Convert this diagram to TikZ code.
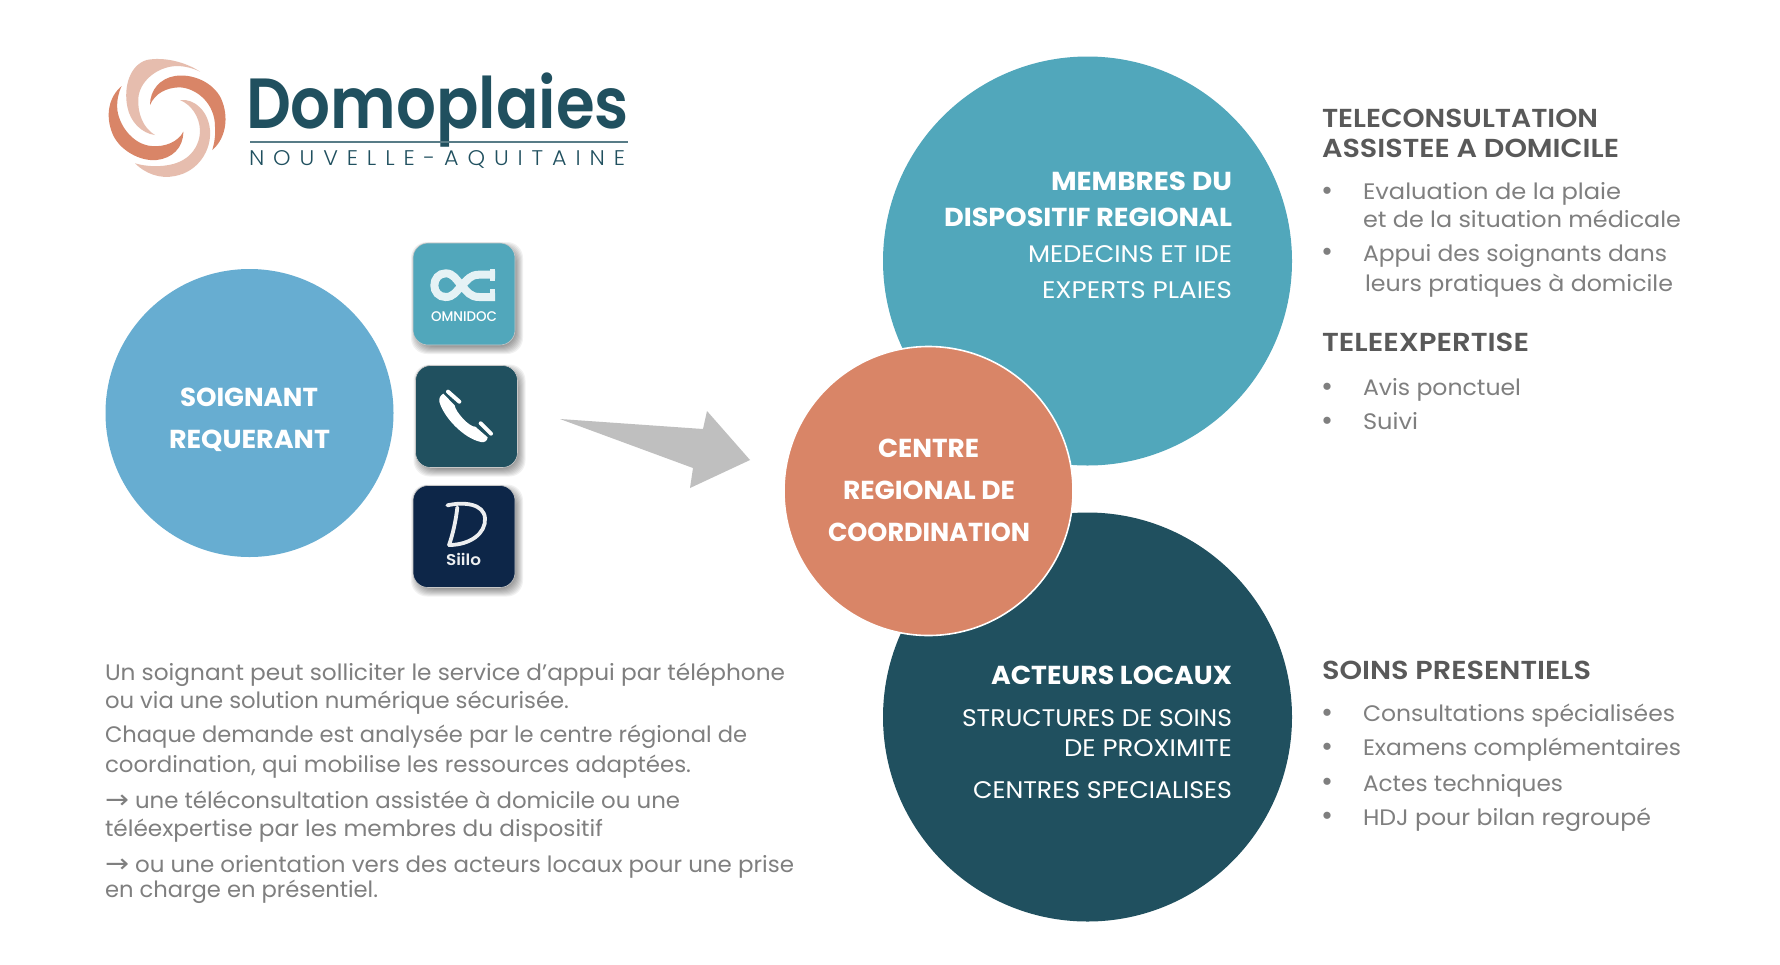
\documentclass[tikz,border=0pt]{standalone}
\usepackage{fontspec}
\usepackage{graphicx}
\setmainfont{Poppins}
\newfontfamily\popsb{Poppins SemiBold}
\newfontfamily\popmed{Poppins Medium}
\newfontfamily\poplight{Poppins Light}
\newfontfamily\arrowfont{DejaVu Sans}
\definecolor{cteal}{HTML}{51A7BB}
\definecolor{cdark}{HTML}{20505F}
\definecolor{corange}{HTML}{D98567}
\definecolor{clight}{HTML}{E6BDAE}
\definecolor{cblue}{HTML}{67ADD1}
\definecolor{cnavy}{HTML}{0D2648}
\definecolor{cgreyh}{HTML}{595959}
\definecolor{cgreyt}{HTML}{7F7F7F}
\definecolor{carrow}{HTML}{BFBFBF}
\tikzset{
  disc/.style={circle,inner sep=0,draw=none},
  txt/.style={inner sep=0,outer sep=0},
  headw/.style={font=\fontsize{13}{15}\selectfont\bfseries,text=white},
  bodyw/.style={font=\fontsize{12}{14}\selectfont,text=white},
  headg/.style={font=\fontsize{13}{15}\selectfont\popsb,text=cgreyh},
  bodyg/.style={font=\fontsize{11.2}{13}\selectfont,text=cgreyt},
  bul/.style={font=\fontsize{11.2}{13}\selectfont,text=cgreyt,anchor=base,inner sep=0},
  icon/.style={rectangle,rounded corners=7.5pt,inner sep=0,minimum width=51pt,minimum height=51pt,draw=black!22,line width=0.3pt},
}
\newcommand\tl[6]{\pgfmathsetlengthmacro\tw{(#4-#3)*0.5}\node[txt,#1,anchor=base west] (#2) at (#3,#5) {\resizebox{\tw}{\height}{#6}};}
\newcommand\shad[2]{\foreach \s in {-4,-3,-2,-1,0,1,2,3,4,5}{\fill[black,opacity=.055,rounded corners=8pt] (#1-51+3-\s,#2-51+4-\s) rectangle (#1+51+3+\s,#2+51+4+\s);}}
\newcommand\bigarrow{{\arrowfont\scalebox{1.25}[1.15]{→}}}
\newcommand\bigbul{\scalebox{1.3}{•}}
\begin{document}
\begin{tikzpicture}[x=0.5pt,y=-0.5pt]
\useasboundingbox (0,0) rectangle (1780,964);
\fill[white] (0,0) rectangle (1780,964);

% logo swirl
\begin{scope}[shift={(100,50)},x=0.16667pt,y=-0.16667pt]
\fill[clight] (300,65) .. controls (255,35) and (190,20) .. (140,30) .. controls (90,45) and (70,110) .. (82,170) .. controls (90,215) and (125,250) .. (165,255) .. controls (130,235) and (112,190) .. (115,145) .. controls (118,95) and (170,50) .. (230,48) .. controls (255,48) and (280,55) .. (300,65) -- cycle;
\fill[corange] (337,300) .. controls (378,265) and (388,200) .. (363,145) .. controls (338,95) and (275,70) .. (225,78) .. controls (180,85) and (150,120) .. (150,165) .. controls (165,130) and (200,112) .. (240,112) .. controls (290,115) and (345,160) .. (345,230) .. controls (347,255) and (343,280) .. (337,300) -- cycle;
\fill[clight] (240,150) .. controls (285,145) and (325,185) .. (330,240) .. controls (335,300) and (295,365) .. (225,378) .. controls (180,388) and (135,370) .. (105,340) .. controls (140,350) and (180,352) .. (220,342) .. controls (270,328) and (300,290) .. (300,240) .. controls (298,200) and (275,165) .. (240,150) -- cycle;
\fill[corange] (65,108) .. controls (27,140) and (15,195) .. (37,250) .. controls (57,300) and (120,335) .. (170,330) .. controls (215,325) and (250,295) .. (250,245) .. controls (235,275) and (195,292) .. (155,288) .. controls (105,285) and (60,235) .. (52,180) .. controls (50,150) and (55,130) .. (65,108) -- cycle;
\end{scope}

% logo text
\tl{font=\fontsize{35.5}{40}\selectfont\popsb,text=cdark}{logoname}{246}{629}{128}{Domoplaies}
\coordinate (rulea) at (250,142);
\coordinate (ruleb) at (628,142);
\draw[cdark!75!white,line width=0.8pt] (rulea) -- (ruleb);
\tl{font=\fontsize{10.6}{12}\selectfont\poplight\addfontfeature{LetterSpace=40},text=cdark}{logosub}{249}{625}{165}{NOUVELLE-AQUITAINE}

% circles
\node[disc,fill=cblue,minimum size=144pt] (req) at (249.5,413) {};
\node[disc,fill=cteal,minimum size=204.5pt] (membres) at (1087.5,261) {};
\node[disc,fill=cdark,minimum size=204.5pt] (acteurs) at (1087.5,717) {};
\node[disc,fill=corange,draw=white,line width=0.8pt,minimum size=144.5pt] (centre) at (928.5,491) {};

\tl{headw}{r1}{180}{318}{406}{SOIGNANT}
\tl{headw}{r2}{169}{330}{448}{REQUERANT}

\tl{headw}{m1}{1051}{1232}{190}{MEMBRES DU}
\tl{headw}{m2}{944}{1232}{226}{DISPOSITIF REGIONAL}
\tl{bodyw}{m3}{1028}{1232}{262}{MEDECINS ET IDE}
\tl{bodyw}{m4}{1042}{1232}{298}{EXPERTS PLAIES}

\tl{headw}{c1}{878}{979}{457}{CENTRE}
\tl{headw}{c2}{843}{1015}{499}{REGIONAL DE}
\tl{headw}{c3}{828}{1030}{541}{COORDINATION}

\tl{headw}{a1}{991}{1232}{684}{ACTEURS LOCAUX}
\tl{bodyw}{a2}{962}{1232}{726}{STRUCTURES DE SOINS}
\tl{bodyw}{a3}{1064}{1232}{756}{DE PROXIMITE}
\tl{bodyw}{a4}{973}{1232}{798}{CENTRES SPECIALISES}

% icons
\shad{464}{294}
\shad{466.5}{416.5}
\shad{464}{536.5}
\node[icon,fill=cteal] (omni) at (464,294) {};
\node[icon,fill=cdark] (tel) at (466.5,416.5) {};
\node[icon,fill=cnavy] (siilo) at (464,536.5) {};

\begin{scope}[shift={(380,220)},x=0.16667pt,y=-0.16667pt]
% omnidoc mark
\draw[color=white!85!cteal,line width=4pt] (345,164) -- (298,164) .. controls (270,164) and (262,180) .. (245,197) .. controls (228,215) and (220,231) .. (197,231) .. controls (176,231) and (163,215) .. (163,196) .. controls (163,177) and (176,160) .. (197,160) .. controls (220,160) and (228,178) .. (245,197) .. controls (262,215) and (270,231) .. (298,231) -- (345,231);
\fill[white!85!cteal] (330,148) rectangle (346,182);
\fill[white!85!cteal] (330,208) rectangle (346,243);
% telephone
\fill[white] (190,521) -- (224,556) .. controls (226,575) and (268,622) .. (286,620) -- (323,652) .. controls (322,662) and (315,668) .. (303,666) .. controls (250,655) and (190,590) .. (178,545) .. controls (176,535) and (182,525) .. (190,521) -- cycle;
\draw[white,line width=2pt,line cap=round] (204,515) -- (238,545);
\draw[white,line width=2pt,line cap=round] (302,610) -- (333,641);
% siilo mark
\draw[white!92!cnavy,line width=1.9pt,line cap=round] (202,856) .. controls (250,845) and (312,850) .. (315,895) .. controls (318,940) and (270,975) .. (207,975);
\draw[white!92!cnavy,line width=1.9pt,line cap=round] (232,862) .. controls (228,900) and (218,945) .. (207,975);
\end{scope}
\tl{font=\fontsize{7}{8}\selectfont\popmed,text=white}{omnilab}{431}{497}{321}{OMNIDOC}
\tl{font=\fontsize{7.8}{9}\selectfont\popsb,text=white!92!cnavy}{siilolab}{446}{481}{565}{Siilo}

% big arrow
\coordinate (aa) at (560,419);
\coordinate (ab) at (703,429);
\coordinate (ac) at (707,411);
\coordinate (ad) at (750,460);
\coordinate (ae) at (690,488);
\coordinate (af) at (693,468);
\fill[carrow] (aa) -- (ab) -- (ac) -- (ad) -- (ae) -- (af) -- cycle;

% left paragraph
\tl{bodyg}{p1}{105}{785}{680}{Un soignant peut solliciter le service d’appui par téléphone}
\tl{bodyg}{p2}{105}{569}{708}{ou via une solution numérique sécurisée.}
\tl{bodyg}{p3}{105}{747}{742}{Chaque demande est analysée par le centre régional de}
\tl{bodyg}{p4}{105}{691}{772}{coordination, qui mobilise les ressources adaptées.}
\tl{bodyg}{p5}{105}{680}{808}{\bigarrow{} une téléconsultation assistée à domicile ou une}
\tl{bodyg}{p6}{105}{603}{836}{téléexpertise par les membres du dispositif}
\tl{bodyg}{p7}{105}{794}{872}{\bigarrow{} ou une orientation vers des acteurs locaux pour une prise}
\tl{bodyg}{p8}{105}{378}{897}{en charge en présentiel.}

% right lists
\tl{headg}{h1}{1322}{1598}{127}{TELECONSULTATION}
\tl{headg}{h2}{1322}{1619}{157}{ASSISTEE A DOMICILE}
\node[bul] (b1) at (1327,200) {\bigbul};
\tl{bodyg}{l1}{1363}{1621}{199}{Evaluation de la plaie}
\tl{bodyg}{l2}{1363}{1681}{227}{et de la situation médicale}
\node[bul] (b2) at (1327,261) {\bigbul};
\tl{bodyg}{l3}{1363}{1667}{261}{Appui des soignants dans}
\tl{bodyg}{l4}{1365}{1673}{291}{leurs pratiques à domicile}
\tl{headg}{h3}{1322}{1529}{351}{TELEEXPERTISE}
\node[bul] (b3) at (1327,396) {\bigbul};
\tl{bodyg}{l5}{1363}{1521}{395}{Avis ponctuel}
\node[bul] (b4) at (1327,430) {\bigbul};
\tl{bodyg}{l6}{1363}{1418}{429}{Suivi}
\tl{headg}{h4}{1322}{1591}{679}{SOINS PRESENTIELS}
\node[bul] (b5) at (1327,722) {\bigbul};
\tl{bodyg}{l7}{1363}{1675}{721}{Consultations spécialisées}
\node[bul] (b6) at (1327,756) {\bigbul};
\tl{bodyg}{l8}{1363}{1681}{755}{Examens complémentaires}
\node[bul] (b7) at (1327,791) {\bigbul};
\tl{bodyg}{l9}{1363}{1563}{791}{Actes techniques}
\node[bul] (b8) at (1327,825) {\bigbul};
\tl{bodyg}{l10}{1363}{1651}{825}{HDJ pour bilan regroupé}
\end{tikzpicture}
\end{document}
